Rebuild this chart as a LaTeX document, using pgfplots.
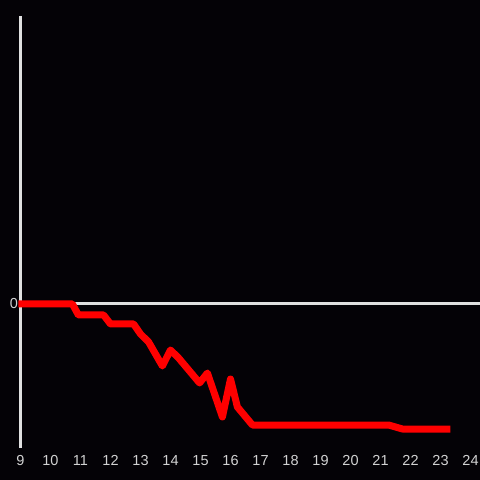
\documentclass[border=0pt]{standalone}
\usepackage{fontspec}
\setmainfont{Liberation Sans}
\usepackage{pgfplots}
\pgfplotsset{compat=1.18}
\definecolor{bg}{RGB}{4,2,6}
\definecolor{axisgray}{RGB}{224,224,224}
\definecolor{ticktext}{RGB}{210,210,210}
\begin{document}
\begin{tikzpicture}
\fill[bg] (-20.5bp,-32bp) rectangle (459.5bp,448bp);
\useasboundingbox (-20.5bp,-32bp) rectangle (459.5bp,448bp);
\begin{axis}[
  at={(0,0)}, anchor=south west,
  scale only axis,
  width=460bp, height=432bp,
  xmin=9, xmax=24.333,
  ymin=-144, ymax=288,
  axis lines=left,
  axis line style={-},
  x axis line style={draw=none},
  y axis line style={axisgray, line width=3bp},
  xtick={9,10,...,24},
  ytick={0},
  major tick length=0pt,
  ymajorgrids,
  grid style={axisgray, line width=3bp},
  tick label style={font=\fontsize{14.5bp}{16bp}\selectfont, text=ticktext},
  xticklabel style={yshift=-4bp},
  yticklabel style={xshift=1bp},
  /pgf/number format/assume math mode=true,
  clip=false,
]
\addplot[color={rgb,255:red,255;green,0;blue,0}, line width=7bp, line join=round] coordinates {
  (8.93,0) (10.73,0) (10.93,-11) (11.77,-11) (12.0,-20) (12.77,-20)
  (13.0,-30) (13.27,-38) (13.73,-62) (14.0,-46) (14.27,-54) (14.97,-79)
  (15.23,-69) (15.73,-113) (16.0,-75) (16.23,-103) (16.73,-121)
  (21.27,-121) (21.73,-125) (23.33,-125)
};
\end{axis}
\end{tikzpicture}
\end{document}
